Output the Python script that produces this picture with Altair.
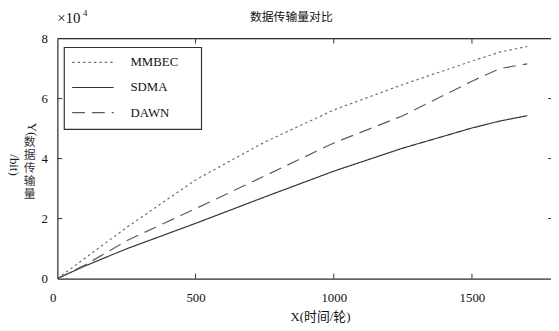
import altair as alt
import pandas as pd

# ---- data ----
rounds = [0, 100, 250, 500, 750, 1000, 1250, 1500, 1600, 1700]
mmbec = [0, 0.68, 1.70, 3.29, 4.55, 5.62, 6.47, 7.25, 7.55, 7.74]
sdma = [0, 0.42, 0.99, 1.84, 2.72, 3.58, 4.35, 5.02, 5.25, 5.43]
dawn = [0, 0.45, 1.26, 2.33, 3.42, 4.52, 5.43, 6.58, 7.00, 7.16]
series_names = ["MMBEC", "SDMA", "DAWN"]
series_colors = ["#6e6e6e", "#333333", "#5c5c5c"]
series_dashes = [[2.5, 3], [1, 0], [13, 7]]
x_ticks = [0, 500, 1000, 1500]
y_ticks = [0, 2, 4, 6, 8]

W, H = 500, 243
XMAX = 1786
SERIF = "Liberation Serif, Noto Sans CJK SC"
CJK = "Noto Sans CJK SC"

rows = []
for name, vals in zip(series_names, [mmbec, sdma, dawn]):
    for r, v in zip(rounds, vals):
        rows.append({"x": r, "y": v, "s": name})
df = pd.DataFrame(rows)

xs = alt.Scale(domain=[0, XMAX], nice=False, zero=False)
ys = alt.Scale(domain=[0, 8], nice=False)

base = alt.Chart(df)
lines = base.mark_line(strokeWidth=1.2, clip=True).encode(
    x=alt.X("x:Q", scale=xs, axis=alt.Axis(
        values=x_ticks, ticks=False, grid=False, domainColor="#333", domainWidth=1.2,
        labelFont=SERIF, labelFontSize=13, labelColor="#111", labelPadding=13,
        labelOffset={"condition": {"test": "datum.value === 0", "value": -8}, "value": 0},
        format="d",
        title="X(时间/轮)", titleFont=SERIF, titleFontSize=13, titleFontWeight="normal",
        titleColor="#111", titlePadding=6, titleX=266)),
    y=alt.Y("y:Q", scale=ys, axis=alt.Axis(
        values=y_ticks, ticks=False, grid=False, domainColor="#333", domainWidth=1.2,
        labelFont=SERIF, labelFontSize=13, labelColor="#111", labelPadding=10,
        format="d", title=None)),
    color=alt.Color("s:N", scale=alt.Scale(domain=series_names, range=series_colors), legend=None),
    strokeDash=alt.StrokeDash("s:N", scale=alt.Scale(domain=series_names, range=series_dashes), legend=None),
)

layers = [lines]

# frame top line
layers.append(alt.Chart(pd.DataFrame({"a": [0]})).mark_rule(color="#333", strokeWidth=1.2).encode(
    x=alt.value(0), x2=alt.value(W), y=alt.value(0)))

# inward ticks bottom & top
tx = pd.DataFrame({"x": x_ticks[1:]})
layers.append(alt.Chart(tx).mark_rule(color="#333", strokeWidth=1).encode(
    x=alt.X("x:Q", scale=xs), y=alt.value(H), y2=alt.value(H - 5)))
layers.append(alt.Chart(tx).mark_rule(color="#333", strokeWidth=1).encode(
    x=alt.X("x:Q", scale=xs), y=alt.value(0), y2=alt.value(5)))
# inward ticks left & right
ty = pd.DataFrame({"y": y_ticks[1:-1]})
layers.append(alt.Chart(ty).mark_rule(color="#333", strokeWidth=1).encode(
    y=alt.Y("y:Q", scale=ys), x=alt.value(0), x2=alt.value(5)))
layers.append(alt.Chart(ty).mark_rule(color="#333", strokeWidth=1).encode(
    y=alt.Y("y:Q", scale=ys), x=alt.value(W - 3), x2=alt.value(W)))

one = pd.DataFrame({"a": [0]})

# legend box
layers.append(alt.Chart(one).mark_rect(fill="white", stroke="#333", strokeWidth=1.2).encode(
    x=alt.value(7), x2=alt.value(146), y=alt.value(9), y2=alt.value(92)))
for i, (name, col, dash) in enumerate(zip(series_names, series_colors, series_dashes)):
    yy = 24 + i * 25.5
    layers.append(alt.Chart(one).mark_rule(color=col, strokeWidth=1.2, strokeDash=dash).encode(
        x=alt.value(15), x2=alt.value(57), y=alt.value(yy)))
    layers.append(alt.Chart(one).mark_text(text=name, font=SERIF, fontSize=13, color="#111",
                                           align="left", baseline="middle").encode(
        x=alt.value(74), y=alt.value(yy)))

# title and exponent
layers.append(alt.Chart(one).mark_text(text="数据传输量对比", font=CJK, fontSize=12, color="#111",
                                       align="center", baseline="middle").encode(
    x=alt.value(237), y=alt.value(-22)))
layers.append(alt.Chart(one).mark_text(text="×10", font=SERIF, fontSize=15, color="#111",
                                       align="left", baseline="middle").encode(
    x=alt.value(0), y=alt.value(-21)))
layers.append(alt.Chart(one).mark_text(text="4", font=SERIF, fontSize=9, color="#111",
                                       align="left", baseline="middle").encode(
    x=alt.value(26), y=alt.value(-26)))

# y-axis title (vertical writing)
layers.append(alt.Chart(one).mark_text(text="Y(", font=SERIF, fontSize=13, color="#222",
                                       align="center", baseline="middle", angle=90).encode(
    x=alt.value(-26), y=alt.value(92)))
for j, ch in enumerate("数据传输量"):
    layers.append(alt.Chart(one).mark_text(text=ch, font=CJK, fontSize=12, color="#333",
                                           align="center", baseline="middle").encode(
        x=alt.value(-28), y=alt.value(105 + j * 13)))
layers.append(alt.Chart(one).mark_text(text="/bit)", font=SERIF, fontSize=13, color="#222",
                                       align="center", baseline="middle", angle=90).encode(
    x=alt.value(-44), y=alt.value(128)))

chart = alt.layer(*layers).properties(
    width=W, height=H, autosize="none",
    padding={"left": 50, "top": 29, "right": 0, "bottom": 43},
).configure_view(stroke=None).configure(background="white")

chart.save("out.html", embed_options={"renderer": "svg", "actions": False})
